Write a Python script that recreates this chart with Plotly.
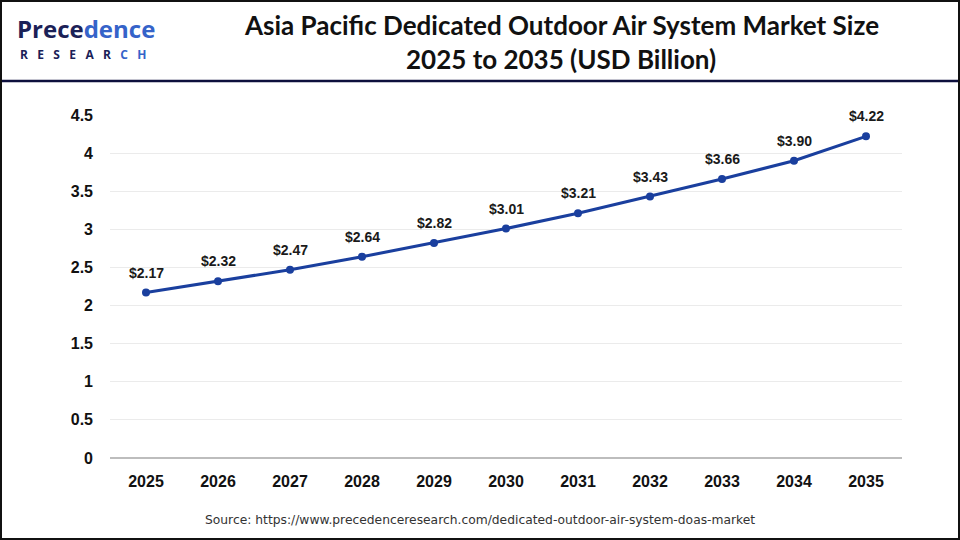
import plotly.graph_objects as go

# Market size data (USD Billion)
years = ["2025", "2026", "2027", "2028", "2029", "2030",
         "2031", "2032", "2033", "2034", "2035"]
market_size = [2.17, 2.32, 2.47, 2.64, 2.82, 3.01, 3.21, 3.43, 3.66, 3.90, 4.22]
y_ticks = [0, 0.5, 1, 1.5, 2, 2.5, 3, 3.5, 4, 4.5]
y_tick_labels = ["0", "0.5", "1", "1.5", "2", "2.5", "3", "3.5", "4", "4.5"]

labels = ["$%.2f" % v for v in market_size]

W, H = 960, 540
ML, MR, MT, MB = 110, 58, 115, 82
PW, PH = W - ML - MR, H - MT - MB


def px_x(x):
    # pixel x -> paper coordinate
    return (x - ML) / PW


def px_y(y):
    # pixel y (from top) -> paper coordinate
    return (H - y - MB) / PH


fig = go.Figure()
fig.add_trace(go.Scatter(
    x=years, y=market_size,
    mode="lines+markers",
    line=dict(color="#1a3f9e", width=3),
    marker=dict(color="#1a3f9e", size=8),
    cliponaxis=False,
    hoverinfo="skip",
))

# data labels above the points (category index, since years look numeric)
for i, (val, lab) in enumerate(zip(market_size, labels)):
    fig.add_annotation(
        x=i, y=val, text="<b>" + lab + "</b>", showarrow=False,
        yshift=20, font=dict(family="Liberation Sans, Arial", size=14, color="#1a1a1a"),
    )

fig.update_layout(
    width=W, height=H,
    paper_bgcolor="white", plot_bgcolor="white",
    margin=dict(l=ML, r=MR, t=MT, b=MB),
    showlegend=False,
    font=dict(family="Liberation Sans, Arial", color="#111111"),
)

fig.update_xaxes(
    type="category", range=[-0.5, 10.5],
    showgrid=False, showline=False, zeroline=False,
    ticks="", ticklabelstandoff=12,
    tickfont=dict(family="Liberation Sans, Arial", size=16, color="#111111", weight="bold"),
)
fig.update_yaxes(
    range=[0, 4.5],
    tickvals=y_ticks, ticktext=y_tick_labels,
    showgrid=True, gridcolor="#ebebeb", gridwidth=1,
    zeroline=True, zerolinecolor="#bdbdbd", zerolinewidth=2,
    showline=False, ticks="", ticklabelstandoff=16,
    tickfont=dict(family="Liberation Sans, Arial", size=16, color="#111111", weight="bold"),
)

# Title
fig.add_annotation(
    text="<b>Asia Pacific Dedicated Outdoor Air System Market Size</b>",
    xref="paper", yref="paper", x=px_x(561), y=px_y(25),
    xanchor="center", yanchor="middle", showarrow=False,
    font=dict(family="Lato, Open Sans", size=26, color="#111111"),
)
fig.add_annotation(
    text="<b>2025 to 2035 (USD Billion)</b>",
    xref="paper", yref="paper", x=px_x(561), y=px_y(59),
    xanchor="center", yanchor="middle", showarrow=False,
    font=dict(family="Lato, Open Sans", size=26, color="#111111"),
)

# Logo
gap = "&#160;" * 3
research_dark = gap.join("RESEAR") + gap
research_blue = gap.join("CH")
fig.add_annotation(
    text="<b><span style='color:#1b2157'>Prece</span><span style='color:#3563c9'>dence</span></b>",
    xref="paper", yref="paper", x=px_x(15), y=px_y(28),
    xanchor="left", yanchor="middle", showarrow=False,
    font=dict(family="Open Sans", size=24),
)
fig.add_annotation(
    text="<b><span style='color:#1b2157'>" + research_dark + "</span>"
         "<span style='color:#3563c9'>" + research_blue + "</span></b>",
    xref="paper", yref="paper", x=px_x(18), y=px_y(54),
    xanchor="left", yanchor="middle", showarrow=False,
    font=dict(family="Open Sans", size=12),
)

# Source
fig.add_annotation(
    text="Source: https://www.precedenceresearch.com/dedicated-outdoor-air-system-doas-market",
    xref="paper", yref="paper", x=px_x(480), y=px_y(520),
    xanchor="center", yanchor="middle", showarrow=False,
    font=dict(family="DejaVu Sans", size=12.3, color="#333333"),
)

# Header separator and outer border
fig.add_shape(type="line", xref="paper", yref="paper",
              x0=px_x(0), x1=px_x(W), y0=px_y(81), y1=px_y(81),
              line=dict(color="#0d0f3d", width=2.5))
fig.add_shape(type="rect", xref="paper", yref="paper",
              x0=px_x(1), x1=px_x(W - 1), y0=px_y(H - 1), y1=px_y(1),
              line=dict(color="#111111", width=2))

fig.write_html("out.html", config={"displayModeBar": False},
               post_script="document.body.style.margin='0';")
